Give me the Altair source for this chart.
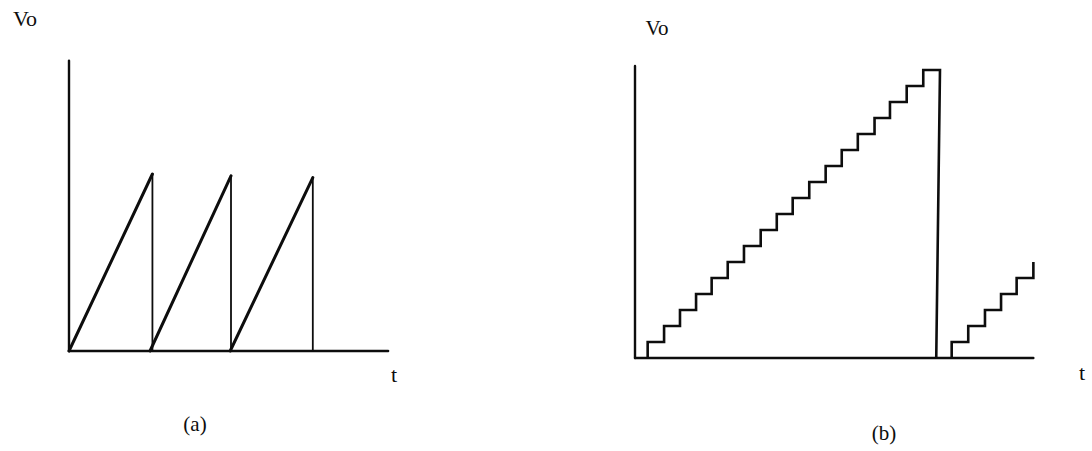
import altair as alt
import pandas as pd

# ---------------- data ----------------
# Panel (a): sawtooth (time in periods, voltage in peak units)
saw_ramp_start = [0.0, 1.0, 1.99]
saw_ramp_end = [1.03, 2.0, 3.01]
saw_peak = [1.0, 0.99, 0.98]
axis_a_tmax = 3.94
axis_a_vmax = 1.64

# Panel (b): staircase (time in clock steps, voltage in LSB steps)
stair1_starts = [0.78, 1.79, 2.77, 3.76, 4.72, 5.71, 6.71, 7.74, 8.73, 9.71,
                 10.73, 11.74, 12.73, 13.72, 14.75, 15.70, 16.73, 17.75]
stair1_levels = [1, 2, 3, 4, 5, 6, 7, 8, 9, 10, 11, 12, 13, 14, 15, 16, 17, 18]
stair1_end = 18.78
reset_bottom = 18.55
stair2_starts = [19.50, 20.52, 21.55, 22.54, 23.50]
stair2_levels = [1, 2, 3, 4, 5]
stair2_end = 24.53
stair2_last_level = 6
axis_b_tmax = 24.53
axis_b_vmax = 18.25

labels_text = ["Vo", "t", "(a)", "Vo", "t", "(b)"]

# ---------------- layout (pixels) ----------------
W, H = 1092, 451
# panel a mapping
A_X0, A_PX_T = 69, 81.0
A_Y0, A_PX_V = 351, 177.0
# panel b mapping
B_X0, B_PX_T = 635, 16.24
B_Y0, B_PX_V = 358, 16.0

def dom_x(x0, k):
    return [-x0 / k, (W - x0) / k]

def dom_y(y0, k):
    return [(y0 - H) / k, y0 / k]

INK = "#0d0d0d"

# ---------------- panel a ----------------
ramps = pd.DataFrame({"t": saw_ramp_start, "v": [0.0] * 3,
                      "t2": saw_ramp_end, "v2": saw_peak})
drops = pd.DataFrame({"t": saw_ramp_end, "v": saw_peak,
                      "t2": saw_ramp_end, "v2": [0.0] * 3})
axes_a = pd.DataFrame({"t": [0.0, 0.0], "v": [0.0, 0.0],
                       "t2": [0.0, axis_a_tmax], "v2": [axis_a_vmax, 0.0]})

xa = alt.Scale(domain=dom_x(A_X0, A_PX_T), nice=False, zero=False)
ya = alt.Scale(domain=dom_y(A_Y0, A_PX_V), nice=False, zero=False)

def seg(df, xs, ys, width):
    return alt.Chart(df).mark_rule(color=INK, strokeWidth=width, strokeCap="round").encode(
        x=alt.X("t:Q", scale=xs, axis=None),
        y=alt.Y("v:Q", scale=ys, axis=None),
        x2="t2:Q", y2="v2:Q")

panel_a = alt.layer(
    seg(axes_a, xa, ya, 2.4),
    seg(ramps, xa, ya, 3.0),
    seg(drops, xa, ya, 1.8),
)

# ---------------- panel b ----------------
def stair_path(starts, levels, end, tail):
    pts = []
    prev = 0
    for s, lv in zip(starts, levels):
        pts.append((s, prev))
        pts.append((s, lv))
        prev = lv
    pts.append((end, prev))
    pts.append(tail)
    return pts

p1 = stair_path(stair1_starts, stair1_levels, stair1_end, (reset_bottom, 0))
p2 = stair_path(stair2_starts, stair2_levels, stair2_end, (stair2_end, stair2_last_level))
rows = []
for name, pts in (("s1", p1), ("s2", p2)):
    for k, (t, v) in enumerate(pts):
        rows.append({"t": t, "v": v, "path": name, "k": k})
stairs = pd.DataFrame(rows)

axes_b = pd.DataFrame({"t": [0.0, 0.0], "v": [0.0, 0.0],
                       "t2": [0.0, axis_b_tmax], "v2": [axis_b_vmax, 0.0]})

xb = alt.Scale(domain=dom_x(B_X0, B_PX_T), nice=False, zero=False)
yb = alt.Scale(domain=dom_y(B_Y0, B_PX_V), nice=False, zero=False)

stair_chart = alt.Chart(stairs).mark_line(color=INK, strokeWidth=2.6, strokeJoin="miter").encode(
    x=alt.X("t:Q", scale=xb, axis=None),
    y=alt.Y("v:Q", scale=yb, axis=None),
    detail="path:N",
    order="k:Q",
)

panel_b = alt.layer(seg(axes_b, xb, yb, 2.4), stair_chart)

# ---------------- labels ----------------
lab_x = [25, 394, 195, 657, 1082, 884]
lab_y = [19, 375, 425, 29, 373, 434]
lab_size = [22, 22, 21, 21, 22, 21]

def label(i):
    return alt.Chart(pd.DataFrame({"s": [labels_text[i]]})).mark_text(
        font="Liberation Serif", fontSize=lab_size[i], color=INK,
        align="center", baseline="middle").encode(
        text="s:N", x=alt.value(lab_x[i]), y=alt.value(lab_y[i]))

labels = alt.layer(*[label(i) for i in range(len(labels_text))])

chart = alt.layer(panel_a, panel_b, labels).resolve_scale(
    x="independent", y="independent"
).properties(
    width=W, height=H, padding=0, autosize=alt.AutoSizeParams(type="none"),
    background="white",
).configure_view(stroke=None)

chart.save("out.html", embed_options={"renderer": "svg", "actions": False})
